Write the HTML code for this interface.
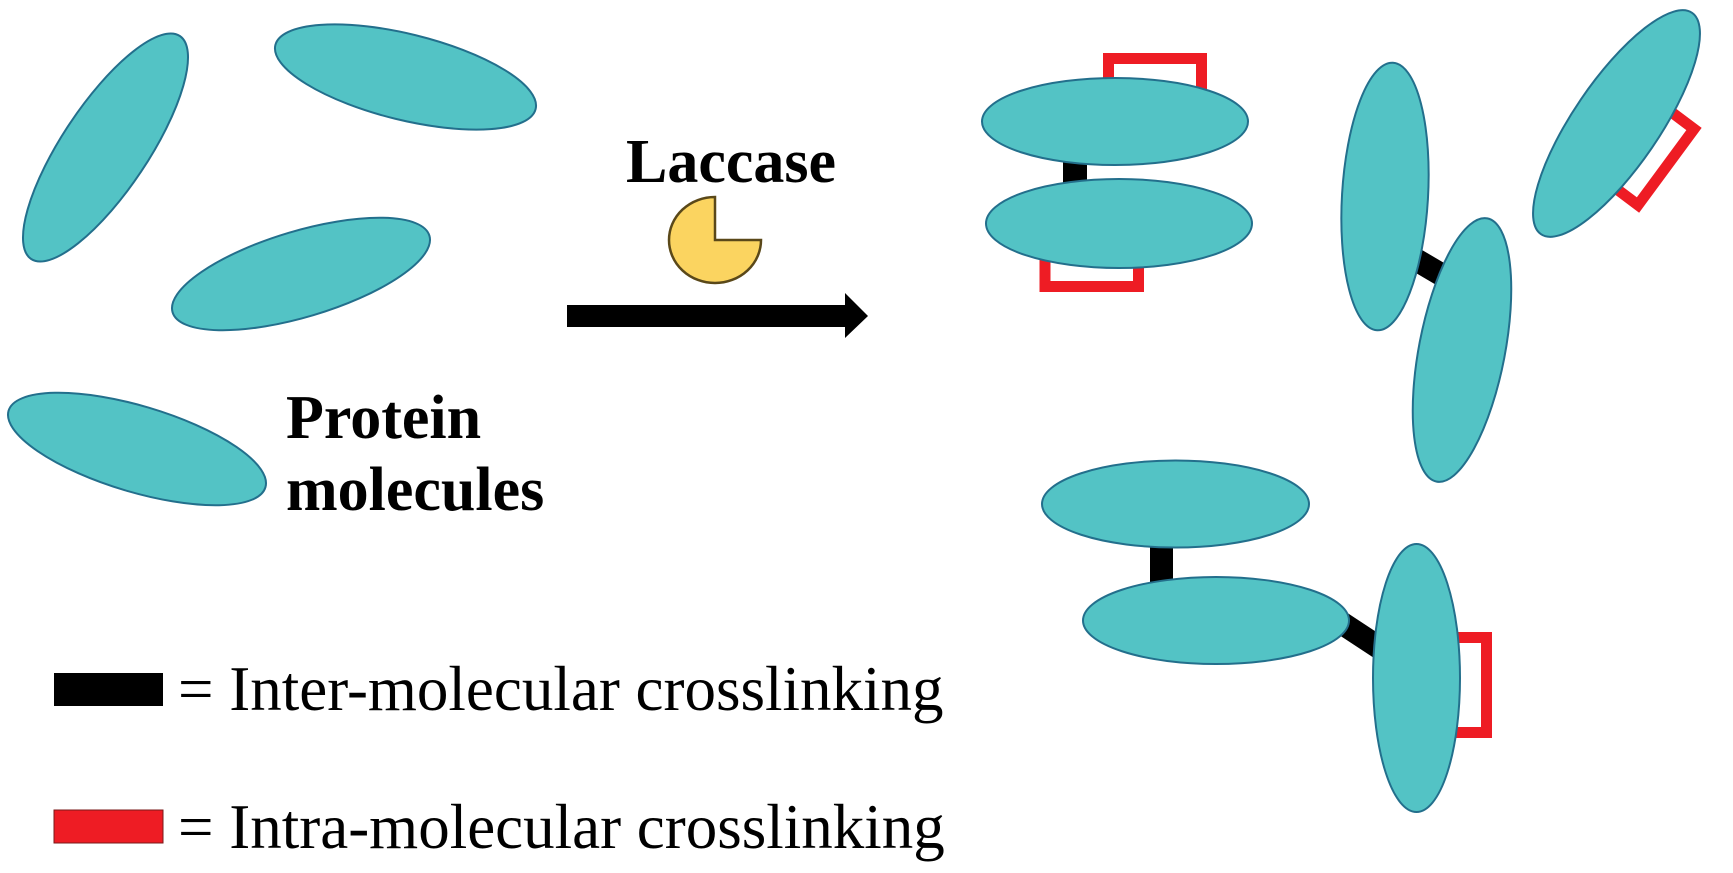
<!DOCTYPE html>
<html>
<head>
<meta charset="utf-8">
<style>
  html, body { margin: 0; padding: 0; background: #ffffff; }
  body { width: 1733px; height: 873px; overflow: hidden; }
  svg { display: block; }
  .ell { fill: #53c3c5; stroke: #236f8c; stroke-width: 2; }
  .red { fill: none; stroke: #ee1c24; stroke-width: 11; stroke-linejoin: miter; }
  .blk { stroke: #000; stroke-width: 23; }
  .bold { font-family: "Liberation Serif", "Times New Roman", serif; font-weight: bold; font-size: 62px; fill: #000; }
  .reg { font-family: "Liberation Serif", "Times New Roman", serif; font-size: 63px; fill: #000; }
</style>
</head>
<body>
<svg width="1733" height="873" viewBox="0 0 1733 873" xmlns="http://www.w3.org/2000/svg">
  <!-- Left: free protein molecules -->
  <ellipse class="ell" cx="105.5" cy="147.5" rx="134" ry="43" transform="rotate(-56.3 105.5 147.5)"/>
  <ellipse class="ell" cx="405.5" cy="77" rx="134" ry="43" transform="rotate(13.8 405.5 77)"/>
  <ellipse class="ell" cx="301" cy="274" rx="134" ry="43" transform="rotate(-16.6 301 274)"/>
  <ellipse class="ell" cx="137" cy="449" rx="134" ry="43" transform="rotate(16.6 137 449)"/>

  <text class="bold" x="286" y="438">Protein</text>
  <text class="bold" x="286" y="510">molecules</text>

  <!-- Laccase + enzyme + arrow -->
  <text class="bold" x="626" y="182">Laccase</text>
  <path d="M715,240 L761,240 A46 43 0 1 1 715,197 Z" fill="#fbd460" stroke="#5a4819" stroke-width="2.5"/>
  <polygon points="567,305 845,305 845,293 868,316 845,338 845,327 567,327" fill="#000"/>

  <!-- Right: top pair (stacked) -->
  <polyline class="red" points="1108.5,110 1108.5,58.5 1201.5,58.5 1201.5,110"/>
  <polyline class="red" points="1045,230 1045,286.5 1138.5,286.5 1138.5,230"/>
  <rect x="1063" y="150" width="24" height="45" fill="#000"/>
  <ellipse class="ell" cx="1115" cy="121.5" rx="133" ry="43.5"/>
  <ellipse class="ell" cx="1119" cy="223.5" rx="133" ry="44.5"/>

  <!-- Right: vertical pair -->
  <line class="blk" x1="1396" y1="248" x2="1464" y2="288"/>
  <ellipse class="ell" cx="1385" cy="196.5" rx="43" ry="134" transform="rotate(3.4 1385 196.5)"/>
  <ellipse class="ell" cx="1462" cy="350" rx="43" ry="134" transform="rotate(10.9 1462 350)"/>

  <!-- Right: single tilted with intra bracket -->
  <polyline class="red" points="1658,102 1694,129 1638,205 1602,178"/>
  <ellipse class="ell" cx="1616.5" cy="123.5" rx="134" ry="43" transform="rotate(-55.7 1616.5 123.5)"/>

  <!-- Bottom group -->
  <rect x="1150" y="530" width="23" height="60" fill="#000"/>
  <line class="blk" x1="1325" y1="612" x2="1395" y2="658"/>
  <polyline class="red" points="1440,637.5 1486.5,637.5 1486.5,732.5 1440,732.5"/>
  <ellipse class="ell" cx="1175.5" cy="504" rx="133.5" ry="43.5"/>
  <ellipse class="ell" cx="1216" cy="620.5" rx="133" ry="43.5"/>
  <ellipse class="ell" cx="1416.5" cy="678" rx="43.5" ry="134"/>

  <!-- Legend -->
  <rect x="54" y="673" width="109" height="33" fill="#000"/>
  <text class="reg" x="178" y="710">= Inter-molecular crosslinking</text>
  <rect x="54" y="810" width="109" height="33" fill="#ee1c24" stroke="#7a1a1a" stroke-width="1"/>
  <text class="reg" x="178" y="848">= Intra-molecular crosslinking</text>
</svg>
</body>
</html>
